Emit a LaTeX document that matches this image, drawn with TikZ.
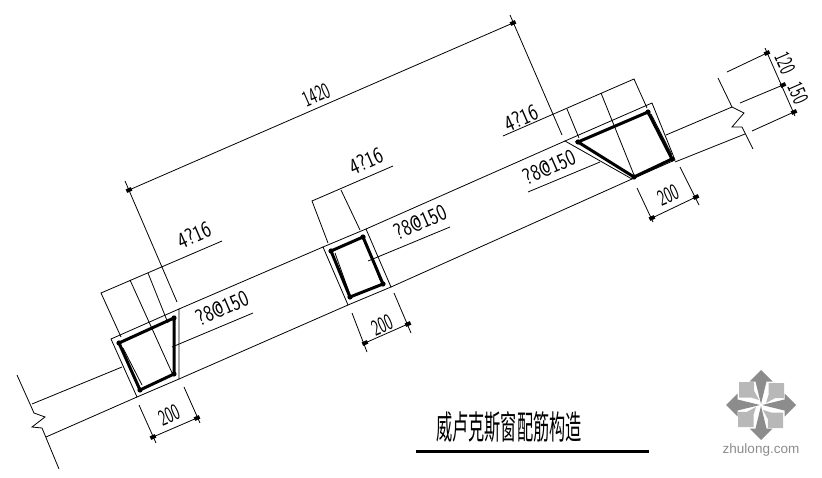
\documentclass[tikz,border=0pt]{standalone}
\usepackage{fontspec}
\newfontfamily\cjk{Noto Sans CJK SC}
\newfontfamily\logofont{Liberation Sans}
\tikzset{
  thin line/.style={line width=0.8pt,black},
  rebar/.style={line width=3pt,black,line join=miter},
  dimtext/.style={inner sep=0pt,font=\sffamily\fontsize{23}{23}\selectfont},
  dimnum/.style={dimtext,rotate=23.6,xscale=.64},
  dimvert/.style={dimtext,rotate=-66.4,xscale=.64},
  rebartext/.style={dimtext,rotate=23.6,xscale=.81},
  armfill/.style={fill=black!45},
  leaf/.style={fill=black!28},
}
\newcommand{\tickmark}[1]{\fill[black,rotate around={23.6:#1}] #1 ++(-2.8,-1.9) rectangle ++(5.6,3.8);}
\newcommand{\cornerdot}[1]{\fill[black] #1 circle (2.6);}
\begin{document}
\begin{tikzpicture}[x=1pt,y=-1pt]
\useasboundingbox (0,0) rectangle (822,478);
\fill[white] (0,0) rectangle (822,478);
\begin{scope}[thin line]
% wall lines
\draw (32,404) -- (122,367);
\draw (46,437) -- (137,397);
\draw (179,309) -- (323,247);
\draw (179,379) -- (348,305);
\draw (366,229) -- (565,141);
\draw (391,287) -- (632,179);
\draw (666,135) -- (732,107);
\draw (675,162) -- (745,134);
% break lines
\draw (17,375) -- (34,413) -- (45,417) -- (32,427) -- (42,428) -- (59,469);
\draw (718,78) -- (732,107) -- (744,113) -- (732,127) -- (742,127) -- (753,149);
% frames
\draw (111,339) -- (179,309) -- (179,379) -- (137,397) -- cycle;
\draw (323,247) -- (366,229) -- (391,287) -- (348,305) -- cycle;
\draw (565,141) -- (652,103) -- (675,160) -- (632,179) -- cycle;
% overall dimension
\draw (129,190) -- (513,23);
\draw (125,181) -- (177,302);
\draw (510,15) -- (562,135);
% window 1 leaders
\draw (222,241) -- (101,293) -- (121,337);
\draw (130,280) -- (173,375);
\draw (148,273) -- (168,323);
\draw (172,347) -- (253,313);
\draw (123,348) -- (142,385);
% window 1 dim
\draw (139,405) -- (156,443);
\draw (184,387) -- (200,423);
\draw (153,437) -- (197,418);
% window 2 leaders
\draw (393,166) -- (312,201) -- (328,243);
\draw (341,190) -- (360,230);
\draw (368,261) -- (450,227);
\draw (335,253) -- (349,292);
\draw (366,242) -- (380,280);
% window 2 dim
\draw (352,313) -- (367,352);
\draw (394,293) -- (411,333);
\draw (365,343) -- (408,324);
% window 3 leaders
\draw (503,136) -- (634,79) -- (647,108);
\draw (567,109) -- (579,138);
\draw (601,93) -- (634,175);
\draw (528,192) -- (600,162);
\draw (651,114) -- (672,155);
% window 3 dim
\draw (637,188) -- (653,222);
\draw (680,167) -- (699,205);
\draw (652,218) -- (696,197);
% right dimensions
\draw (765,48) -- (795,116);
\draw (727,72) -- (767,53);
\draw (740,103) -- (783,85);
\draw (752,131) -- (794,112);
\end{scope}
% rebar outlines
\draw[rebar] (119,343) -- (174,318) -- (174,374) -- (140,390) -- cycle;
\draw[rebar] (331,251) -- (363,237) -- (383,284) -- (350,297) -- cycle;
\draw[rebar] (578,142) -- (648,112) -- (672,159) -- (634,177) -- cycle;
\foreach \p in {(119,343),(174,318),(174,374),(140,390),(331,251),(363,237),(383,284),(350,297),(578,142),(648,112),(672,159),(634,177)} {\cornerdot{\p}}
% dimension ticks
\foreach \p in {(129,190),(513,23),(153,437),(197,418),(365,343),(408,324),(652,218),(696,197),(767,53),(783,85),(794,112)} {\tickmark{\p}}
% labels
\node[dimnum] (t1420) at (316,95) {1420};
\node[rebartext] (a1) at (194,235) {4?16};
\node[rebartext] (a2) at (366,161) {4?16};
\node[rebartext] (a3) at (521,118) {4?16};
\node[rebartext] (b1) at (222,308) {?8@150};
\node[rebartext] (b2) at (420,222) {?8@150};
\node[rebartext] (b3) at (549,167) {?8@150};
\node[dimnum] (d1) at (169,415) {200};
\node[dimnum] (d2) at (382,325) {200};
\node[dimnum] (d3) at (668,195) {200};
\node[dimvert] (v1) at (785,63) {120};
\node[dimvert] (v2) at (798,93) {150};
% title
\node[inner sep=0pt,xscale=.49,font=\cjk\fontsize{33}{33}\selectfont] (title) at (509,427) {威卢克斯窗配筋构造};
\draw[line width=3pt] (416,451) -- (649,451);
% logo
\begin{scope}[shift={(761,405)}]
\foreach \a in {0,90,180,270}{
  \begin{scope}[rotate=\a]
  \fill[armfill] (0,-35) -- (-11.5,-23.5) -- (-5.5,-23.5) -- (0,-1) -- (5.5,-23.5) -- (11.5,-23.5) -- cycle;
  \fill[leaf] (-22,-23) -- (-6.8,-23) -- (-6.8,-14) -- (-2,-5) -- (-10,-7.5) -- (-22,-7.5) -- cycle;
  \end{scope}
}
\end{scope}
\node[inner sep=0pt,text=black!45,font=\logofont\fontsize{13.5}{13.5}\selectfont] (logo) at (761,450) {zhulong.com};
\end{tikzpicture}
\end{document}
